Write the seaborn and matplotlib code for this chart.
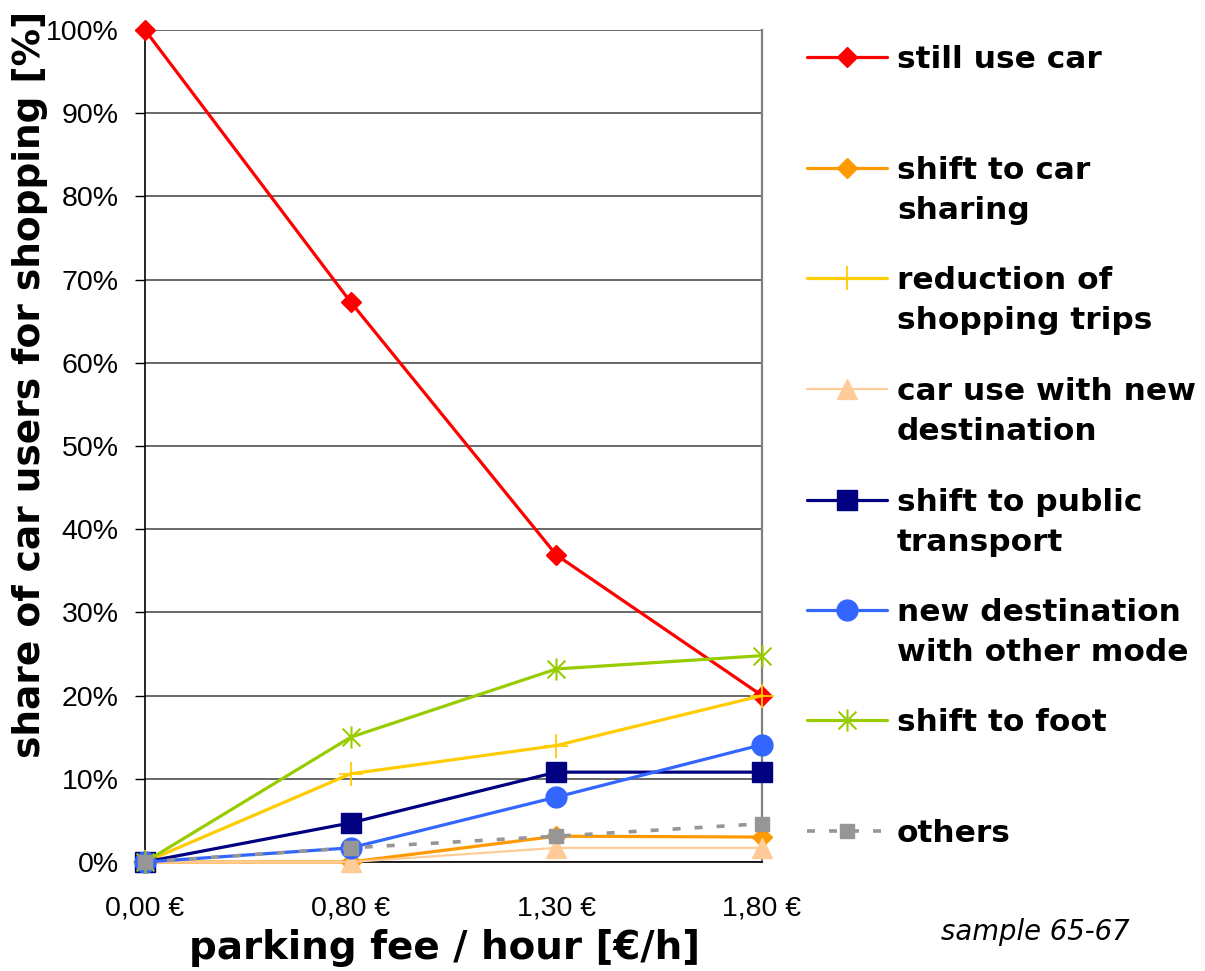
import numpy as np
import pandas as pd
import seaborn as sns
import matplotlib
matplotlib.use("Agg")
import matplotlib.pyplot as plt
from matplotlib.path import Path
from matplotlib.lines import Line2D

sns.set_theme(style="white")
plt.rcParams["font.family"] = ["DejaVu Sans"]

# parking fee categories
fees = ["0,00 €", "0,80 €", "1,30 €", "1,80 €"]

# share of car users per reaction [%]
still_use_car = [100.0, 67.3, 36.9, 20.0]
car_sharing = [0.0, 0.0, 3.1, 3.0]
fewer_trips = [0.0, 10.6, 14.0, 20.0]
car_new_destination = [0.0, 0.0, 1.7, 1.7]
public_transport = [0.0, 4.7, 10.8, 10.8]
new_destination_other_mode = [0.0, 1.7, 7.8, 14.1]
foot = [0.0, 15.0, 23.2, 24.8]
others = [0.0, 1.7, 3.1, 4.6]

labels = [
    "still use car",
    "shift to car\nsharing",
    "reduction of\nshopping trips",
    "car use with new\ndestination",
    "shift to public\ntransport",
    "new destination\nwith other mode",
    "shift to foot",
    "others",
]
series = [still_use_car, car_sharing, fewer_trips, car_new_destination,
          public_transport, new_destination_other_mode, foot, others]

# asterisk marker: vertical bar plus an X
asterisk = Path([(0, -1), (0, 1), (-0.8, -0.8), (0.8, 0.8), (-0.8, 0.8), (0.8, -0.8)],
                [Path.MOVETO, Path.LINETO, Path.MOVETO, Path.LINETO, Path.MOVETO, Path.LINETO])

styles = [
    dict(color="#FF0000", marker="D", ms=10, lw=2.3, ls="-"),
    dict(color="#FF9900", marker="D", ms=10, lw=2.3, ls="-"),
    dict(color="#FFCC00", marker="+", ms=17, lw=2.3, ls="-", mew=1.3),
    dict(color="#FFCC99", marker="^", ms=15, lw=1.6, ls="-"),
    dict(color="#000080", marker="s", ms=14, lw=2.3, ls="-"),
    dict(color="#3366FF", marker="o", ms=15, lw=2.3, ls="-"),
    dict(color="#99CC00", marker=asterisk, ms=16, lw=2.3, ls="-", mew=1.5),
    dict(color="#969696", marker="s", ms=10, lw=2.6, ls=(0, (2.2, 3.9))),
]

fig = plt.figure(figsize=(12.05, 9.71), dpi=100)
ax = fig.add_axes([145 / 1205, 1 - 862 / 971, (762 - 145) / 1205, (862 - 30) / 971])

x = np.arange(len(fees))
for vals, st in zip(series, styles):
    df = pd.DataFrame({"fee": x, "share": vals})
    sns.lineplot(data=df, x="fee", y="share", ax=ax, color=st["color"],
                 linewidth=st["lw"], linestyle=st["ls"], marker=st["marker"],
                 markersize=st["ms"], markeredgecolor=st["color"],
                 markerfacecolor=st["color"], markeredgewidth=st.get("mew", 1),
                 clip_on=False, zorder=3)

ax.set_xlim(0, 3)
ax.set_ylim(0, 100)
ax.set_xticks(x)
ax.set_xticklabels(fees)
ax.set_yticks(np.arange(0, 101, 10))
ax.set_yticklabels([f"{v}%" for v in range(0, 101, 10)])
for lab in ax.get_xticklabels() + ax.get_yticklabels():
    lab.set_fontfamily("Liberation Sans")
    lab.set_fontsize(20.5)
    lab.set_color("black")
ax.tick_params(axis="y", length=7, width=1, color="black", direction="out", pad=12, left=True)
ax.tick_params(axis="x", length=0, pad=24)
ax.yaxis.grid(True, color="#404040", linewidth=1.1)
ax.set_axisbelow(True)
for side in ["left", "bottom"]:
    ax.spines[side].set_color("black")
    ax.spines[side].set_linewidth(1.2)
ax.spines["right"].set_color("#808080")
ax.spines["right"].set_linewidth(1.6)
ax.spines["top"].set_visible(False)

ax.set_xlabel("parking fee / hour [€/h]", fontsize=28, fontweight="bold", color="black")
ax.set_ylabel("share of car users for shopping [%]", fontsize=27, fontweight="bold", color="black")
ax.xaxis.label.set_va("center")
ax.yaxis.label.set_va("center")
ax.xaxis.set_label_coords((445 - 145) / 617, -(948 - 862) / 832)
ax.yaxis.set_label_coords((30 - 145) / 617, (862 - 384) / 832)

# legend drawn in pixel space on an overlay axes
lax = fig.add_axes([0, 0, 1, 1], facecolor="none")
lax.set_xlim(0, 1205)
lax.set_ylim(971, 0)
lax.axis("off")
entry_y = [57, 168, 278, 389, 500, 610, 720, 831]
for lab, st, yy in zip(labels, styles, entry_y):
    lax.add_line(Line2D([807, 887], [yy, yy], color=st["color"], lw=st["lw"], linestyle=st["ls"]))
    lax.add_line(Line2D([847], [yy], color=st["color"], marker=st["marker"], ms=st["ms"],
                        mfc=st["color"], mec=st["color"], mew=st.get("mew", 1), linestyle="none"))
    lax.text(897, yy - 12, lab, fontsize=22.5, fontweight="bold", va="top", ha="left",
             linespacing=1.47, color="black")

fig.text(1130 / 1205, 1 - 932 / 971, "sample 65-67", fontsize=19.8, style="italic",
         ha="right", va="center", color="black")

fig.savefig("out.png", dpi=100, facecolor="white")
